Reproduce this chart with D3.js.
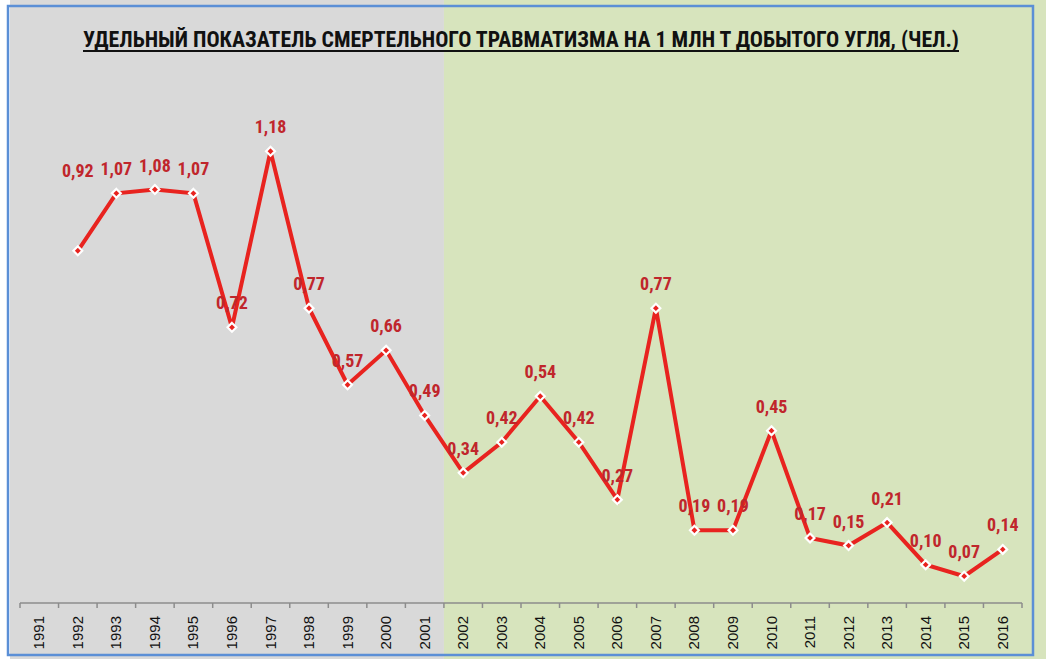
<!DOCTYPE html>
<html>
<head>
<meta charset="utf-8">
<script src="https://cdn.jsdelivr.net/npm/d3@7"></script>
<style>
  body { margin: 0; background: #ffffff; }
  svg { display: block; }
</style>
</head>
<body>
<div id="chart"></div>
<script>
// chart data
var years = ["1991", "1992", "1993", "1994", "1995", "1996", "1997", "1998", "1999", "2000",
    "2001", "2002", "2003", "2004", "2005", "2006", "2007", "2008", "2009", "2010",
    "2011", "2012", "2013", "2014", "2015", "2016"];
var values = [null, 0.92, 1.07, 1.08, 1.07, 0.72, 1.18, 0.77, 0.57, 0.66,
    0.49, 0.34, 0.42, 0.54, 0.42, 0.27, 0.77, 0.19, 0.19, 0.45,
    0.17, 0.15, 0.21, 0.10, 0.07, 0.14];
var splitYear = "2002"; // green background starts here
var title = "УДЕЛЬНЫЙ ПОКАЗАТЕЛЬ СМЕРТЕЛЬНОГО ТРАВМАТИЗМА НА 1 МЛН Т ДОБЫТОГО УГЛЯ, (ЧЕЛ.)";

var svgWidth = 1046;
var svgHeight = 659;

// plot area
var margin = { top: 67, right: 24, bottom: 56, left: 20 };
var width = svgWidth - margin.left - margin.right;
var height = svgHeight - margin.top - margin.bottom;

var narrow = "'Liberation Sans Narrow', 'Arial Narrow', 'Roboto Condensed', 'Liberation Sans', sans-serif";

var svg = d3.select("#chart")
    .append("svg")
    .attr("width", svgWidth)
    .attr("height", svgHeight);

var data = years.map((y, i) => ({ year: y, value: values[i] }));

var x = d3.scaleBand()
    .domain(years)
    .range([0, width]);

var y = d3.scaleLinear()
    .domain([0, 1.4])
    .range([height, 0]);

// background halves
var splitX = margin.left + x(splitYear);
svg.append("rect")
    .attr("x", 10).attr("y", 0)
    .attr("width", splitX - 10).attr("height", svgHeight)
    .attr("fill", "#d9d9d9");
svg.append("rect")
    .attr("x", splitX).attr("y", 0)
    .attr("width", svgWidth - splitX).attr("height", svgHeight)
    .attr("fill", "#d7e4bd");

// outer border
svg.append("rect")
    .attr("x", 8).attr("y", 6)
    .attr("width", 1025).attr("height", 649)
    .attr("fill", "none")
    .attr("stroke", "#5b8fd6")
    .attr("stroke-width", 2.5);

var chartGroup = svg.append("g")
    .attr("transform", `translate(${margin.left}, ${margin.top})`);

// x axis with ticks between categories
var axisG = chartGroup.append("g")
    .attr("transform", `translate(0, ${height})`);
axisG.append("line")
    .attr("x1", 0).attr("x2", width)
    .attr("stroke", "#8c8c8c").attr("stroke-width", 1.5);
axisG.selectAll("line.tick")
    .data(d3.range(years.length + 1))
    .enter()
    .append("line")
    .attr("class", "tick")
    .attr("x1", i => i * x.step()).attr("x2", i => i * x.step())
    .attr("y1", 0).attr("y2", 5)
    .attr("stroke", "#8c8c8c").attr("stroke-width", 1.5);
axisG.selectAll("text")
    .data(years)
    .enter()
    .append("text")
    .attr("transform", d => `translate(${x(d) + x.bandwidth() / 2 + 5}, 13) rotate(-90)`)
    .attr("text-anchor", "end")
    .attr("font-family", "'Liberation Sans', Arial, sans-serif")
    .attr("font-size", "15px")
    .attr("fill", "#111")
    .text(d => d);

// line
var pts = data.filter(d => d.value != null);
var line = d3.line()
    .x(d => x(d.year) + x.bandwidth() / 2)
    .y(d => y(d.value));

chartGroup.append("path")
    .datum(pts)
    .attr("d", line)
    .attr("fill", "none")
    .attr("stroke", "#e8231f")
    .attr("stroke-width", 4)
    .attr("stroke-linejoin", "miter");

// diamond markers
chartGroup.selectAll("path.marker")
    .data(pts)
    .enter()
    .append("path")
    .attr("class", "marker")
    .attr("d", d3.symbol().type(d3.symbolDiamond2).size(50))
    .attr("transform", d => `translate(${x(d.year) + x.bandwidth() / 2}, ${y(d.value)})`)
    .attr("fill", "#e8231f")
    .attr("stroke", "#ffffff")
    .attr("stroke-width", 2.2);

// value labels
chartGroup.selectAll("text.label")
    .data(pts)
    .enter()
    .append("text")
    .attr("class", "label")
    .attr("x", d => x(d.year) + x.bandwidth() / 2)
    .attr("y", (d, i) => i === 0 ? y(d.value) - 74 : y(d.value) - 18)
    .attr("text-anchor", "middle")
    .attr("font-family", narrow)
    .attr("font-weight", "bold")
    .attr("font-size", "18px")
    .attr("fill", "#c0262c")
    .text(d => d3.format(".2f")(d.value).replace(".", ","));

// title - size the font so the text spans about 876px
var titleText = svg.append("text")
    .attr("x", 521)
    .attr("y", 47)
    .attr("text-anchor", "middle")
    .attr("font-family", narrow)
    .attr("font-weight", "bold")
    .attr("font-size", "25px")
    .attr("fill", "#111")
    .text(title);
var natural = titleText.node().getComputedTextLength();
titleText.attr("font-size", (25 * 876 / natural).toFixed(2) + "px");

svg.append("line")
    .attr("x1", 83).attr("x2", 959)
    .attr("y1", 51).attr("y2", 51)
    .attr("stroke", "#111").attr("stroke-width", 1.8);
</script>
</body>
</html>
